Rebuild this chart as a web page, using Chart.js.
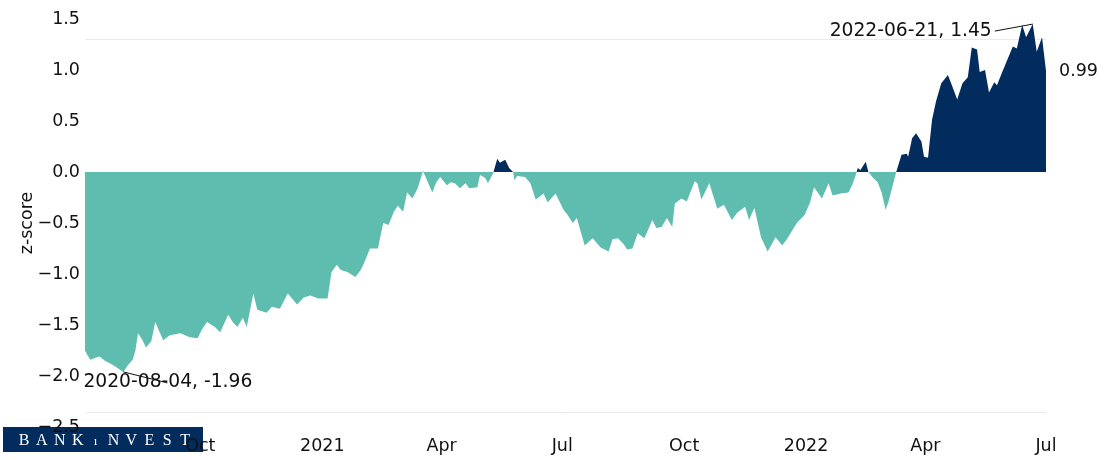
<!DOCTYPE html>
<html lang="da">
<head>
    <meta charset="UTF-8">
    <title>z-score</title>
    <script src="https://cdn.jsdelivr.net/npm/chart.js"></script>
    <style>
        body { margin: 0; background: #fff; }
    </style>
</head>
<body>
    <canvas id="zChart" width="1105" height="460"></canvas>

    <script>
        const dates = [
            '2020-07-06','2020-07-08','2020-07-10','2020-07-14','2020-07-17','2020-07-21','2020-07-24','2020-07-28','2020-08-04','2020-08-07',
            '2020-08-11','2020-08-13','2020-08-15','2020-08-18','2020-08-21','2020-08-25','2020-08-28','2020-09-03','2020-09-08','2020-09-16',
            '2020-09-23','2020-09-29','2020-10-02','2020-10-06','2020-10-12','2020-10-16','2020-10-22','2020-10-26','2020-10-29','2020-11-02',
            '2020-11-05','2020-11-10','2020-11-13','2020-11-20','2020-11-24','2020-11-30','2020-12-06','2020-12-13','2020-12-18','2020-12-23',
            '2020-12-29','2021-01-05','2021-01-08','2021-01-12','2021-01-15','2021-01-20','2021-01-26','2021-01-30','2021-02-01','2021-02-06',
            '2021-02-12','2021-02-16','2021-02-20','2021-02-24','2021-02-27','2021-03-03','2021-03-06','2021-03-10','2021-03-14','2021-03-18',
            '2021-03-21','2021-03-25','2021-03-28','2021-03-31','2021-04-05','2021-04-08','2021-04-11','2021-04-15','2021-04-19','2021-04-22',
            '2021-04-28','2021-04-30','2021-05-04','2021-05-06','2021-05-10','2021-05-13','2021-05-15','2021-05-19','2021-05-22','2021-05-25',
            '2021-05-26','2021-05-28','2021-06-03','2021-06-07','2021-06-11','2021-06-17','2021-06-20','2021-06-26','2021-07-02','2021-07-05',
            '2021-07-09','2021-07-12','2021-07-18','2021-07-24','2021-07-30','2021-08-05','2021-08-08','2021-08-12','2021-08-16','2021-08-19',
            '2021-08-23','2021-08-27','2021-09-01','2021-09-07','2021-09-10','2021-09-14','2021-09-18','2021-09-22','2021-09-24','2021-09-29',
            '2021-10-03','2021-10-09','2021-10-11','2021-10-14','2021-10-20','2021-10-26','2021-10-31','2021-11-06','2021-11-10','2021-11-16',
            '2021-11-19','2021-11-23','2021-11-28','2021-12-03','2021-12-09','2021-12-14','2021-12-18','2021-12-25','2021-12-31','2022-01-04',
            '2022-01-07','2022-01-13','2022-01-18','2022-01-21','2022-01-27','2022-02-02','2022-02-05','2022-02-07','2022-02-09','2022-02-11',
            '2022-02-15','2022-02-17','2022-02-20','2022-02-24','2022-02-27','2022-03-02','2022-03-04','2022-03-07','2022-03-10','2022-03-14',
            '2022-03-18','2022-03-19','2022-03-22','2022-03-25','2022-03-29','2022-03-31','2022-04-03','2022-04-06','2022-04-09','2022-04-13',
            '2022-04-18','2022-04-21','2022-04-25','2022-04-29','2022-05-03','2022-05-06','2022-05-10','2022-05-12','2022-05-16','2022-05-19',
            '2022-05-23','2022-05-25','2022-05-29','2022-06-04','2022-06-06','2022-06-09','2022-06-13','2022-06-16','2022-06-21','2022-06-24',
            '2022-06-28','2022-07-01'
        ];
        const zscores = [
            -1.75,-1.80,-1.84,-1.82,-1.81,-1.85,-1.87,-1.90,-1.96,-1.90,
            -1.84,-1.75,-1.58,-1.64,-1.72,-1.66,-1.47,-1.65,-1.60,-1.58,
            -1.62,-1.63,-1.55,-1.47,-1.52,-1.57,-1.40,-1.48,-1.52,-1.43,
            -1.52,-1.19,-1.35,-1.38,-1.32,-1.34,-1.19,-1.30,-1.23,-1.21,
            -1.24,-1.24,-0.98,-0.91,-0.96,-0.98,-1.03,-0.96,-0.91,-0.75,
            -0.75,-0.50,-0.52,-0.39,-0.33,-0.39,-0.20,-0.26,-0.16,0.01,
            -0.08,-0.20,-0.10,-0.05,-0.13,-0.10,-0.11,-0.16,-0.11,-0.16,
            -0.15,-0.03,-0.06,-0.11,-0.01,0.13,0.09,0.12,0.04,0.00,
            -0.08,-0.04,-0.05,-0.11,-0.27,-0.21,-0.30,-0.21,-0.37,-0.42,
            -0.50,-0.45,-0.72,-0.65,-0.74,-0.78,-0.66,-0.65,-0.70,-0.76,
            -0.75,-0.60,-0.65,-0.47,-0.55,-0.54,-0.45,-0.54,-0.31,-0.26,
            -0.29,-0.09,-0.11,-0.27,-0.11,-0.36,-0.32,-0.47,-0.40,-0.34,
            -0.47,-0.35,-0.64,-0.78,-0.64,-0.72,-0.65,-0.50,-0.42,-0.30,
            -0.15,-0.26,-0.11,-0.23,-0.21,-0.20,-0.12,-0.05,0.04,0.02,
            0.10,0.00,-0.05,-0.10,-0.20,-0.37,-0.30,-0.15,0.00,0.17,
            0.18,0.15,0.33,0.38,0.30,0.15,0.14,0.51,0.69,0.87,
            0.95,0.85,0.71,0.87,0.93,1.22,1.20,0.98,1.00,0.78,
            0.88,0.85,0.98,1.17,1.23,1.21,1.44,1.32,1.45,1.18,
            1.32,0.99
        ];

        const tickDates = ['2020-10-01','2021-01-01','2021-04-01','2021-07-01','2021-10-01','2022-01-01','2022-04-01','2022-07-01'];
        const tickLabels = ['Oct','2021','Apr','Jul','Oct','2022','Apr','Jul'];

        const highDate = '2022-06-21';
        const lowDate = '2020-08-04';
        const frameLines = [1.3, -2.35];

        const positiveColor = '#022c5d';
        const negativeColor = '#5ebdae';
        const textColor = '#111111';
        const fontFamily = '"DejaVu Sans", sans-serif';
        const fontSize = 17.5;

        const dayNum = d => Date.parse(d) / 86400000;
        const fmt = v => v.toFixed(1).replace('-', '\u2212');

        const points = dates.map((d, i) => ({ x: dayNum(d), y: zscores[i] }));

        const decor = {
            id: 'decor',
            beforeDraw(chart) {
                // BankInvest logo, bottom left
                const ctx = chart.ctx;
                ctx.save();
                ctx.fillStyle = positiveColor;
                ctx.fillRect(3, 427, 200, 25);
                ctx.fillStyle = '#ffffff';
                ctx.textAlign = 'center';
                ctx.textBaseline = 'alphabetic';
                const word = 'BANKINVEST';
                for (let i = 0; i < word.length; i++) {
                    if (i === 4) {
                        ctx.font = '13px "Liberation Serif", serif';
                        ctx.fillText('\u0131', 24 + i * 17.9, 445);
                    } else {
                        ctx.font = '16px "Liberation Serif", serif';
                        ctx.fillText(word[i], 24 + i * 17.9, 445);
                    }
                }
                ctx.restore();
            },
            beforeDatasetsDraw(chart) {
                const { ctx, chartArea, scales } = chart;
                ctx.save();
                ctx.strokeStyle = '#ebebeb';
                ctx.lineWidth = 1;
                frameLines.forEach(v => {
                    const y = Math.round(scales.y.getPixelForValue(v)) + 0.5;
                    ctx.beginPath();
                    ctx.moveTo(chartArea.left, y);
                    ctx.lineTo(chartArea.right, y);
                    ctx.stroke();
                });
                ctx.restore();
            },
            afterDraw(chart) {
                const { ctx, chartArea, scales } = chart;
                const px = d => scales.x.getPixelForValue(dayNum(d));
                const py = v => scales.y.getPixelForValue(v);
                ctx.save();
                ctx.fillStyle = textColor;
                ctx.strokeStyle = textColor;
                ctx.lineWidth = 1;
                ctx.textBaseline = 'middle';

                // highest point
                ctx.font = '18.7px ' + fontFamily;
                const hi = dates.indexOf(highDate);
                const hx = px(highDate), hy = py(zscores[hi]);
                ctx.textAlign = 'right';
                ctx.fillText(highDate + ', ' + zscores[hi].toFixed(2), hx - 41, hy + 7);
                ctx.beginPath();
                ctx.moveTo(hx - 38, hy + 7);
                ctx.lineTo(hx, hy);
                ctx.stroke();

                // lowest point
                const lo = dates.indexOf(lowDate);
                const lx = px(lowDate), ly = py(zscores[lo]);
                ctx.beginPath();
                ctx.moveTo(lx, ly);
                ctx.lineTo(lx + 44, ly + 11);
                ctx.stroke();
                ctx.textAlign = 'left';
                ctx.fillText(lowDate + ', ' + zscores[lo].toFixed(2), lx - 40, ly + 10);

                // last value
                ctx.font = fontSize + 'px ' + fontFamily;
                const last = zscores.length - 1;
                ctx.fillText(zscores[last].toFixed(2), px(dates[last]) + 13, py(zscores[last]));

                // y axis title
                ctx.translate(27, (chartArea.top + chartArea.bottom) / 2);
                ctx.rotate(-Math.PI / 2);
                ctx.textAlign = 'center';
                ctx.fillText('z-score', 0, 0);
                ctx.restore();
            }
        };

        new Chart(document.getElementById('zChart'), {
            type: 'line',
            data: {
                datasets: [{
                    data: points,
                    borderWidth: 0,
                    pointRadius: 0,
                    tension: 0,
                    fill: { target: 'origin', above: positiveColor, below: negativeColor }
                }]
            },
            options: {
                responsive: false,
                devicePixelRatio: 1,
                animation: false,
                layout: { padding: { top: 19, right: 59, left: 0, bottom: 0 } },
                plugins: {
                    legend: { display: false },
                    tooltip: { enabled: false }
                },
                scales: {
                    x: {
                        type: 'linear',
                        min: dayNum(dates[0]),
                        max: dayNum(dates[dates.length - 1]),
                        grid: { display: false, drawTicks: false },
                        border: { display: false },
                        afterBuildTicks: s => { s.ticks = tickDates.map(d => ({ value: dayNum(d) })); },
                        afterFit: s => { s.height = 33; },
                        ticks: {
                            autoSkip: false,
                            maxRotation: 0,
                            padding: 9,
                            color: textColor,
                            font: { family: fontFamily, size: fontSize },
                            callback: (v, i) => tickLabels[i]
                        }
                    },
                    y: {
                        min: -2.5,
                        max: 1.5,
                        grid: { display: false, drawTicks: false },
                        border: { display: false },
                        afterFit: s => { s.width = 85; },
                        ticks: {
                            stepSize: 0.5,
                            padding: 5,
                            color: textColor,
                            font: { family: fontFamily, size: fontSize },
                            callback: v => fmt(v)
                        }
                    }
                }
            },
            plugins: [decor]
        });
    </script>
</body>
</html>
